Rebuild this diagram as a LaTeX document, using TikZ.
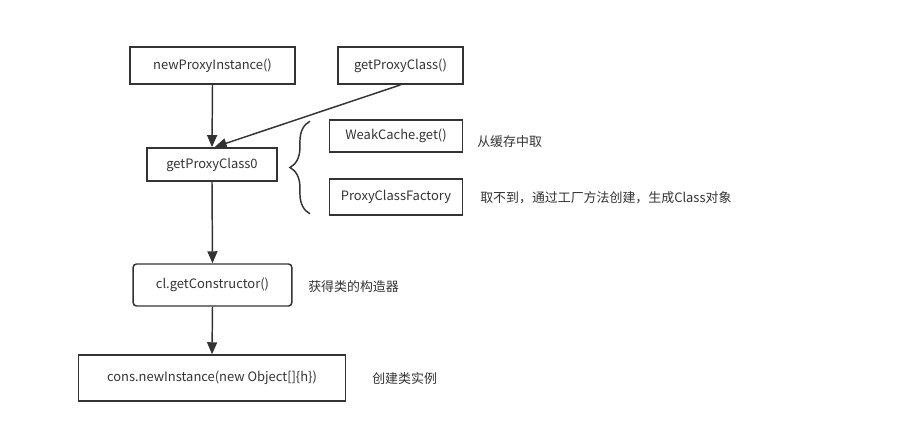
\documentclass[tikz,border=0pt]{standalone}
\usepackage{fontspec}
\setmainfont{Noto Sans CJK SC}
\usetikzlibrary{positioning}
\usetikzlibrary{arrows.meta}
\usetikzlibrary{decorations.pathreplacing}
\colorlet{lnC}{black!80}
\tikzstyle{cbx}=[draw=lnC, text=lnC, line width=1.1pt, shape=rectangle, minimum height=27pt, inner sep=1ex, font=\fontsize{9.7}{11}\selectfont]
\tikzstyle{cbr}=[style=cbx, rounded corners=2.5pt]
\tikzstyle{lbt}=[text=lnC, anchor=west, inner sep=0pt, font=\fontsize{9.7}{11}\selectfont]
\tikzstyle{carrow}=[line width=1.1pt, draw=lnC, -{Triangle[length=9pt,width=7.5pt]}]
\tikzstyle{cbrace}=[line width=1.1pt, draw=lnC, decorate, decoration={brace, amplitude=15pt}]
\def\cbx{\node[style=cbx]}
\def\cbr{\node[style=cbr]}
\def\lbt{\node[style=lbt]}
\def\carrow{\draw[style=carrow]}

\begin{document}
\begin{tikzpicture}[x=0.75pt, y=-0.75pt]
      \useasboundingbox (0,0) rectangle (897,439);
      % calls
      \cbx (nPI)  at (212.5,65.5) [minimum width=124pt, minimum height=28pt] {newProxyInstance()};
      \cbx (gPC)  at (400.5,65.5) [minimum width=94pt,  minimum height=28pt] {getProxyClass()};
      \cbx (gPC0) at (212,164.5)  [minimum width=97.5pt, minimum height=25pt] {getProxyClass0};
      \cbx (wcg)  at (396,136)    [minimum width=100pt, minimum height=24pt] {WeakCache.get()};
      \cbx (pcf)  at (396,197)    [minimum width=100pt, minimum height=27pt] {ProxyClassFactory};
      \cbr (gcon) at (212.5,285)  [minimum width=119pt, minimum height=31.5pt] {cl.getConstructor()};
      \cbx (cnew) at (212,378)    [minimum width=200pt, minimum height=34.5pt] {cons.newInstance(new Object[]\{h\})};
      % notes
      \lbt (lwcg)  at (477,142) {从缓存中取};
      \lbt (lpcf)  at (480,198) {取不到，通过工厂方法创建，生成Class对象};
      \lbt (lgcon) at (308,287) {获得类的构造器};
      \lbt (lcnew) at (372,379) {创建类实例};

      \carrow (nPI.south) -- (gPC0.north);
      \carrow (gPC.south) -- ([xshift=2pt]gPC0.north);
      \carrow (gPC0.south) -- (gcon.north);
      \carrow (gcon.south) -- (cnew.north);
      % brace
      \coordinate (bbot) at ([xshift=-14pt,yshift=1.5pt]pcf.south west);
      \coordinate (btop) at ([xshift=-14pt,yshift=-1.5pt]wcg.north west);
      \draw[style=cbrace] (bbot) -- (btop);

\end{tikzpicture}
\end{document}
